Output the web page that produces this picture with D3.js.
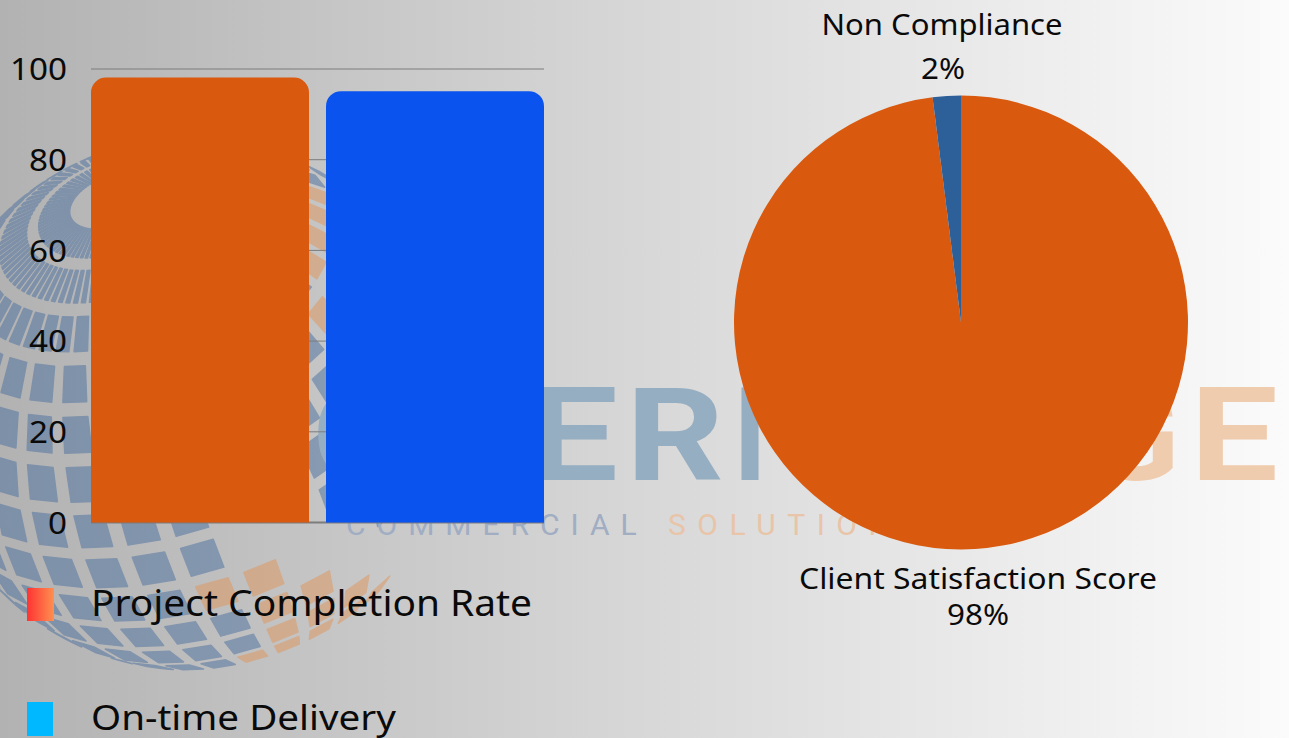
<!DOCTYPE html>
<html><head><meta charset="utf-8">
<script src="https://cdn.jsdelivr.net/npm/d3@7"></script>
<style>html,body{margin:0;padding:0;overflow:hidden}svg{display:block}text{font-family:"Noto Sans",sans-serif;fill:#0a0a0a}</style>
</head><body><div id="c"></div>
<script>
const barCategories = ["Project Completion Rate", "On-time Delivery"];
const barValues = [98, 95];
const barColors = ["#d9590e", "#0b53ef"];
const yTicks = [0, 20, 40, 60, 80, 100];
const pieLabels = ["Client Satisfaction Score", "Non Compliance"];
const pieValues = [98, 2];
const pieColors = ["#d9590e", "#2d6099"];

const W = 1289, H = 738;
const svg = d3.select("#c").append("svg").attr("width", W).attr("height", H);
const defs = svg.append("defs");
const bg = defs.append("linearGradient").attr("id", "bg");
[[0,"#b2b2b2"],[0.45,"#d4d4d4"],[1,"#fbfbfb"]].forEach(s=>bg.append("stop").attr("offset",s[0]).attr("stop-color",s[1]));
const sw = defs.append("linearGradient").attr("id", "sw");
[[0,"#ff3333"],[1,"#ff9050"]].forEach(s=>sw.append("stop").attr("offset",s[0]).attr("stop-color",s[1]));
defs.append("filter").attr("id","soft").append("feGaussianBlur").attr("stdDeviation",0.7);
svg.append("rect").attr("width", W).attr("height", H).attr("fill", "url(#bg)");

// Faint logo watermark: globe of tiles built from a d3 geo projection
const wm = svg.append("g").attr("opacity", 0.5).attr("filter","url(#soft)");
const proj = d3.geoOrthographic().rotate([0, -34, 21]).scale(266).translate([190, 404]).clipAngle(90);
const path = d3.geoPath(proj);
const rows = d3.range(-50, 72, 11);
rows.forEach(lat => {
  const step = lat > 55 ? 4 : (lat > 42 ? 7 : 11);
  d3.range(-180, 180, step).forEach(lon => {
    const m = step > 7 ? 1.8 : 1, poly = {type:"Polygon",coordinates:[[[lon+m,lat+1.6],[lon+m,lat+9.4],[lon+step-m,lat+9.4],[lon+step-m,lat+1.6],[lon+m,lat+1.6]]]};
    const d = path(poly);
    if (!d) return;
    const c = path.centroid(poly);
    if (c[0] > 235 && c[1] > 505 && c[1] < 565) return;
    if (c[0] > 345 && c[1] > 505) { if (c[1] < 585) return; }
    const orange = (c[1] > 560 && ((c[0] > 205 && c[1] < 615) || c[0] > 245)) || (c[0] > 296 && c[1] > 186 && c[1] < 330);
    wm.append("path").attr("d", d).attr("fill", orange ? "#e0955a" : "#4a6f9f")
      .attr("stroke", orange ? "#e0955a" : "#4a6f9f").attr("stroke-width", 1.5).attr("stroke-linejoin","round");
  });
});
const bigLetters = [["C",312,100,"#96aec2"],["E",528,90,"#96aec2"],["R",626,98,"#96aec2"],["I",733,34,"#96aec2"],["G",1088,92,"#f0ccae"],["E",1190,88,"#f0ccae"]];
svg.selectAll("text.big").data(bigLetters).join("text").attr("class","big").attr("x",d=>d[1]).attr("y",480)
  .attr("textLength",d=>d[2]).attr("lengthAdjust","spacingAndGlyphs")
  .style("font-family","Roboto").style("font-weight",700).style("font-size","129px").style("fill",d=>d[3]).text(d=>d[0]);
svg.append("text").attr("x",346).attr("y",535).style("font-family","Roboto").style("font-size","30px")
  .attr("letter-spacing","11").style("fill","#a0adc3").text("COMMERCIAL");
svg.append("text").attr("x",668).attr("y",535).style("font-family","Roboto").style("font-size","30px")
  .attr("letter-spacing","11.5").style("fill","#e8c4a8").text("SOLUTIONS");

// Bars
const y = d3.scaleLinear().domain([0, 100]).range([522, 68.5]);
const x = d3.scaleBand().domain(barCategories).range([91, 544]).paddingInner(17/235).paddingOuter(0);
const axis = svg.append("g").attr("transform","translate(91,0)")
  .call(d3.axisLeft(y).tickValues(yTicks).tickSize(-453).tickPadding(24));
axis.select(".domain").remove();
axis.selectAll("line").attr("stroke","#7d7d7d").attr("stroke-width",d=>d===0?2:1);
axis.selectAll("text").style("font-size","31px").attr("fill","#0a0a0a").attr("dy","0.36em")
  .attr("textLength",d=>String(d).length*19).attr("lengthAdjust","spacingAndGlyphs");
const r = 15;
svg.selectAll("path.bar").data(barValues).join("path").attr("class","bar")
  .attr("fill",(d,i)=>barColors[i])
  .attr("d",(d,i)=>{const l=x(barCategories[i]),w=x.bandwidth(),t=y(d),b=y(0)+0.5;
    return `M${l},${b}V${t+r}A${r},${r} 0 0 1 ${l+r},${t}H${l+w-r}A${r},${r} 0 0 1 ${l+w},${t+r}V${b}Z`;});

// Legend
const swatch = [["url(#sw)",27,588,27,33],["#00b8ff",27,702,26,34]];
svg.selectAll("rect.sw").data(swatch).join("rect").attr("class","sw")
  .attr("fill",d=>d[0]).attr("x",d=>d[1]).attr("y",d=>d[2]).attr("width",d=>d[3]).attr("height",d=>d[4]);
svg.selectAll("text.lg").data(barCategories).join("text").attr("class","lg")
  .attr("x",91).attr("y",(d,i)=>[615.5,729.5][i]).style("font-size",(d,i)=>["36px","35px"][i])
  .attr("textLength",(d,i)=>[441,305][i]).attr("lengthAdjust","spacingAndGlyphs").text(d=>d);

// Pie
const pie = d3.pie().sort(null)(pieValues);
const arc = d3.arc().innerRadius(0).outerRadius(227);
svg.append("g").attr("transform","translate(961,322.5)").selectAll("path").data(pie).join("path")
  .attr("d",arc).attr("fill",(d,i)=>pieColors[i]);
const lab = (t,cx,yy,len)=>svg.append("text").attr("x",cx).attr("y",yy).attr("text-anchor","middle")
  .style("font-size","29px").attr("textLength",len).attr("lengthAdjust","spacingAndGlyphs").text(t);
lab(pieLabels[1],942,35,241);
lab(pieValues[1]+"%",943,79,44);
lab(pieLabels[0],978,589,358);
lab(pieValues[0]+"%",978,625,62);
</script></body></html>
